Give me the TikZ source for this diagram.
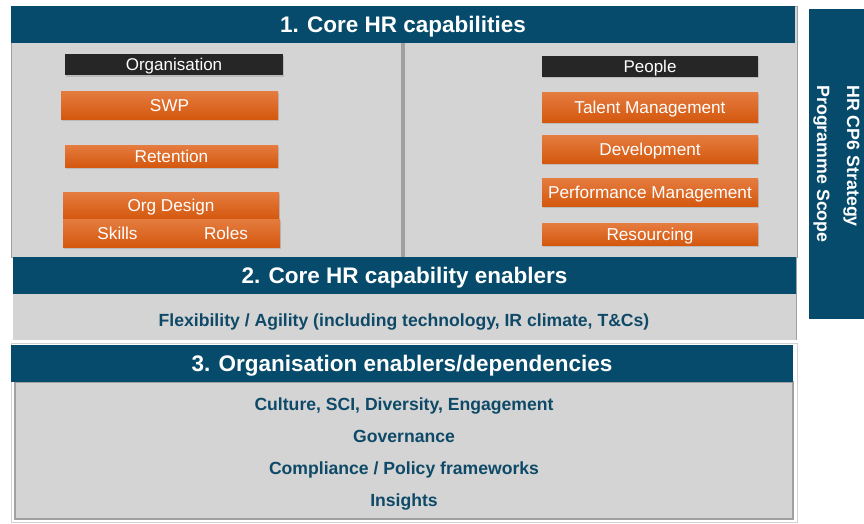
\documentclass[tikz,border=0pt]{standalone}
\usepackage{fontspec}
\setmainfont{Liberation Sans}
\usetikzlibrary{shadows}

\definecolor{hrblue}{RGB}{6,75,107}
\definecolor{hrtext}{RGB}{14,74,104}
\definecolor{hrgray}{RGB}{212,212,212}
\definecolor{hredge}{RGB}{160,160,160}
\definecolor{hrorangetop}{RGB}{229,124,64}
\definecolor{hrorangebot}{RGB}{212,88,14}
\definecolor{hrdark}{RGB}{38,38,38}

\begin{document}
\begin{tikzpicture}[x=1pt, y=-1pt,
  header/.style={fill=hrblue, text=white, inner sep=0pt, minimum height=37pt,
    text height=16pt, text depth=0pt,
    font=\bfseries\fontsize{22.5}{24}\selectfont},
  capbox/.style={shading=axis, top color=hrorangetop, bottom color=hrorangebot,
    text=white, inner sep=0pt, text height=12.3pt, text depth=0pt,
    font=\fontsize{17.2}{18}\selectfont,
    drop shadow={shadow xshift=1pt, shadow yshift=-1.5pt, opacity=0.3}},
  groupbox/.style={fill=hrdark, text=white, inner sep=0pt, minimum width=218pt,
    minimum height=21pt, text height=12.2pt, text depth=0pt,
    font=\fontsize{17}{18}\selectfont,
    drop shadow={shadow xshift=1pt, shadow yshift=-1.5pt, opacity=0.3}},
  enabler/.style={text=hrtext, inner sep=0pt, text height=12.6pt, text depth=0pt,
    font=\bfseries\fontsize{17.6}{18}\selectfont}]
  \useasboundingbox (0,0) rectangle (864,523);

  % panel backgrounds
  \fill[hrgray] (11,6) rectangle (797,257);
  \draw[hredge] (11,6) rectangle (797,257);
  \fill[hredge] (401,43) rectangle (405,257);
  \fill[hrgray] (13,257) rectangle (796,340);
  \draw[hredge] (796,257) -- (796,340);
  \draw[gray!35, line width=1pt] (11,343) rectangle (797,522);
  \fill[hrgray] (15,382) rectangle (793,519);
  \draw[hredge, line width=1.5pt] (15,382) rectangle (793,519);

  % 1. core capabilities
  \node[header, minimum width=784pt] (core) at (403,24.5) {1. Core HR capabilities};

  \node[groupbox] (organisation) at (174,64.5) {Organisation};
  \node[capbox, minimum width=217pt, minimum height=28pt] (swp) at (169.5,105) {SWP};
  \node[capbox, minimum width=213pt, minimum height=22pt] (retention) at (171.5,156) {Retention};
  \node[capbox, minimum width=216pt, minimum height=27pt] (orgdesign) at (171,205.5) {Org Design};
  \node[capbox, minimum width=109pt, minimum height=28pt] (skills) at (117.5,233) {Skills};
  \node[capbox, minimum width=108pt, minimum height=28pt] (roles) at (226,233) {Roles};

  \node[groupbox, minimum width=216pt] (people) at (650,66) {People};
  \node[capbox, minimum width=216pt, minimum height=30pt] (talent) at (650,107) {Talent Management};
  \node[capbox, minimum width=216pt, minimum height=28pt] (development) at (650,149) {Development};
  \node[capbox, minimum width=216pt, minimum height=28pt] (performance) at (650,192) {Performance Management};
  \node[capbox, minimum width=216pt, minimum height=22pt] (resourcing) at (650,234) {Resourcing};

  % 2. capability enablers
  \node[header, minimum width=783pt] (capenablers) at (404.5,275.5) {2. Core HR capability enablers};
  \node[enabler] (flexibility) at (404,320) {Flexibility / Agility (including technology, IR climate, T\&Cs)};

  % 3. organisation enablers
  \node[header, minimum width=782pt] (orgenablers) at (402,363.5) {3. Organisation enablers/dependencies};
  \node[enabler] (culture) at (404,404) {Culture, SCI, Diversity, Engagement};
  \node[enabler] (governance) at (404,436) {Governance};
  \node[enabler] (compliance) at (404,468) {Compliance / Policy frameworks};
  \node[enabler] (insights) at (404,500) {Insights};

  % programme scope
  \node[fill=hrblue, text=white, rotate=-90, inner sep=0pt, align=left,
    minimum width=310pt, minimum height=55pt,
    font=\bfseries\fontsize{17.8}{30}\selectfont] (scope) at (836.5,164)
    {HR CP6 Strategy\\Programme Scope};
\end{tikzpicture}
\end{document}
